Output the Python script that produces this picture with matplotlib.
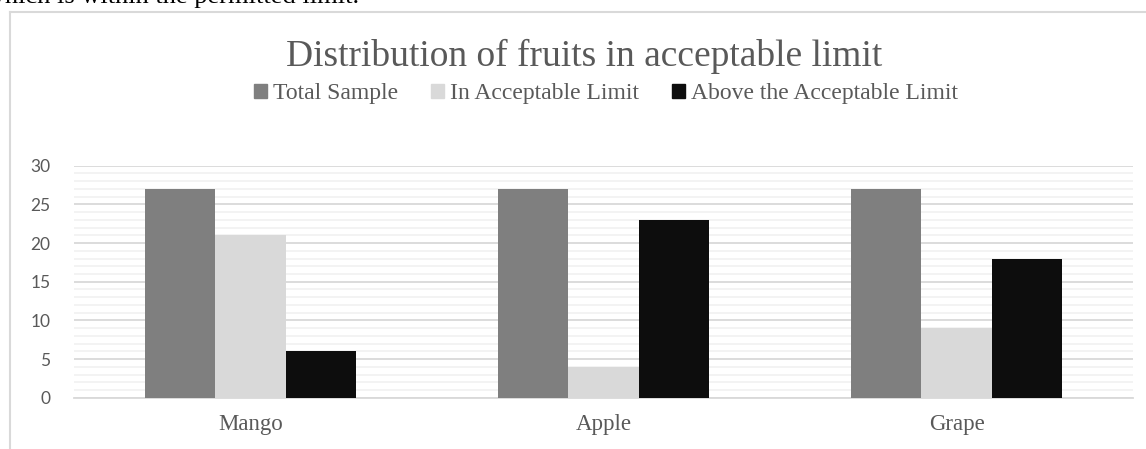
import matplotlib
matplotlib.use("Agg")
import matplotlib.pyplot as plt
from matplotlib.patches import Rectangle
from matplotlib.lines import Line2D
from matplotlib.ticker import MultipleLocator
import numpy as np

categories = ["Mango", "Apple", "Grape"]
series_names = ["Total Sample", "In Acceptable Limit", "Above the Acceptable Limit"]
total_sample = [27, 27, 27]
in_limit = [21, 4, 9]
above_limit = [6, 23, 18]
y_ticks = [0, 5, 10, 15, 20, 25, 30]

colors = ["#7f7f7f", "#d9d9d9", "#0d0d0d"]
W, H = 1146, 449
fig = plt.figure(figsize=(W / 100, H / 100), dpi=100)

def fx(px):
    return px / W

def fy(py):
    return 1 - py / H

# document text clipped at top
fig.text(fx(-14), fy(3), "which is within the permitted limit.", family="Liberation Serif",
         fontsize=19, color="black", ha="left", va="baseline")

# chart frame
fig.add_artist(Line2D([fx(10), fx(10)], [fy(12), 0], color="#d9d9d9", lw=1.5))
fig.add_artist(Line2D([fx(10), 1], [fy(12), fy(12)], color="#d9d9d9", lw=1.5))

ax = fig.add_axes([fx(74), fy(397.7), fx(1133) - fx(74), fy(165.7) - fy(397.7)])
x = np.arange(len(categories))
bw = 0.2
for i, (vals, c) in enumerate(zip([total_sample, in_limit, above_limit], colors)):
    ax.bar(x + (i - 1) * bw, vals, bw, color=c, zorder=3, label=series_names[i])

ax.set_xlim(-0.5, len(categories) - 0.5)
ax.set_ylim(0, 30)
ax.set_yticks(y_ticks)
ax.yaxis.set_minor_locator(MultipleLocator(1))
ax.grid(which="major", axis="y", color="#d9d9d9", lw=1.3, zorder=0)
ax.grid(which="minor", axis="y", color="#f2f2f2", lw=1.3, zorder=0)
for s in ["top", "right", "left"]:
    ax.spines[s].set_visible(False)
ax.spines["bottom"].set_color("#d9d9d9")
ax.spines["bottom"].set_linewidth(1.3)
ax.tick_params(axis="both", which="both", length=0)
ax.set_xticks(x)
ax.set_xticklabels(categories, family="Liberation Serif", fontsize=16.5, color="#595959")
ax.tick_params(axis="x", pad=12)
ax.tick_params(axis="y", pad=17)
for lab in ax.get_yticklabels():
    lab.set_family("Lato")
    lab.set_fontsize(12.5)
    lab.set_color("#595959")

fig.text(fx(584), fy(66), "Distribution of fruits in acceptable limit", family="Liberation Serif",
         fontsize=27, color="#595959", ha="center", va="baseline")

handles = [Rectangle((0, 0), 1, 1, color=c) for c in colors]
fig.legend(handles, series_names, loc="center", bbox_to_anchor=(fx(606), fy(94)),
           ncol=3, frameon=False, prop={"family": "Liberation Serif", "size": 17},
           labelcolor="#595959", handlelength=0.55, handleheight=0.55, handletextpad=0.25,
           columnspacing=1.4, borderpad=0, borderaxespad=0)

fig.savefig("out.png", dpi=100)
